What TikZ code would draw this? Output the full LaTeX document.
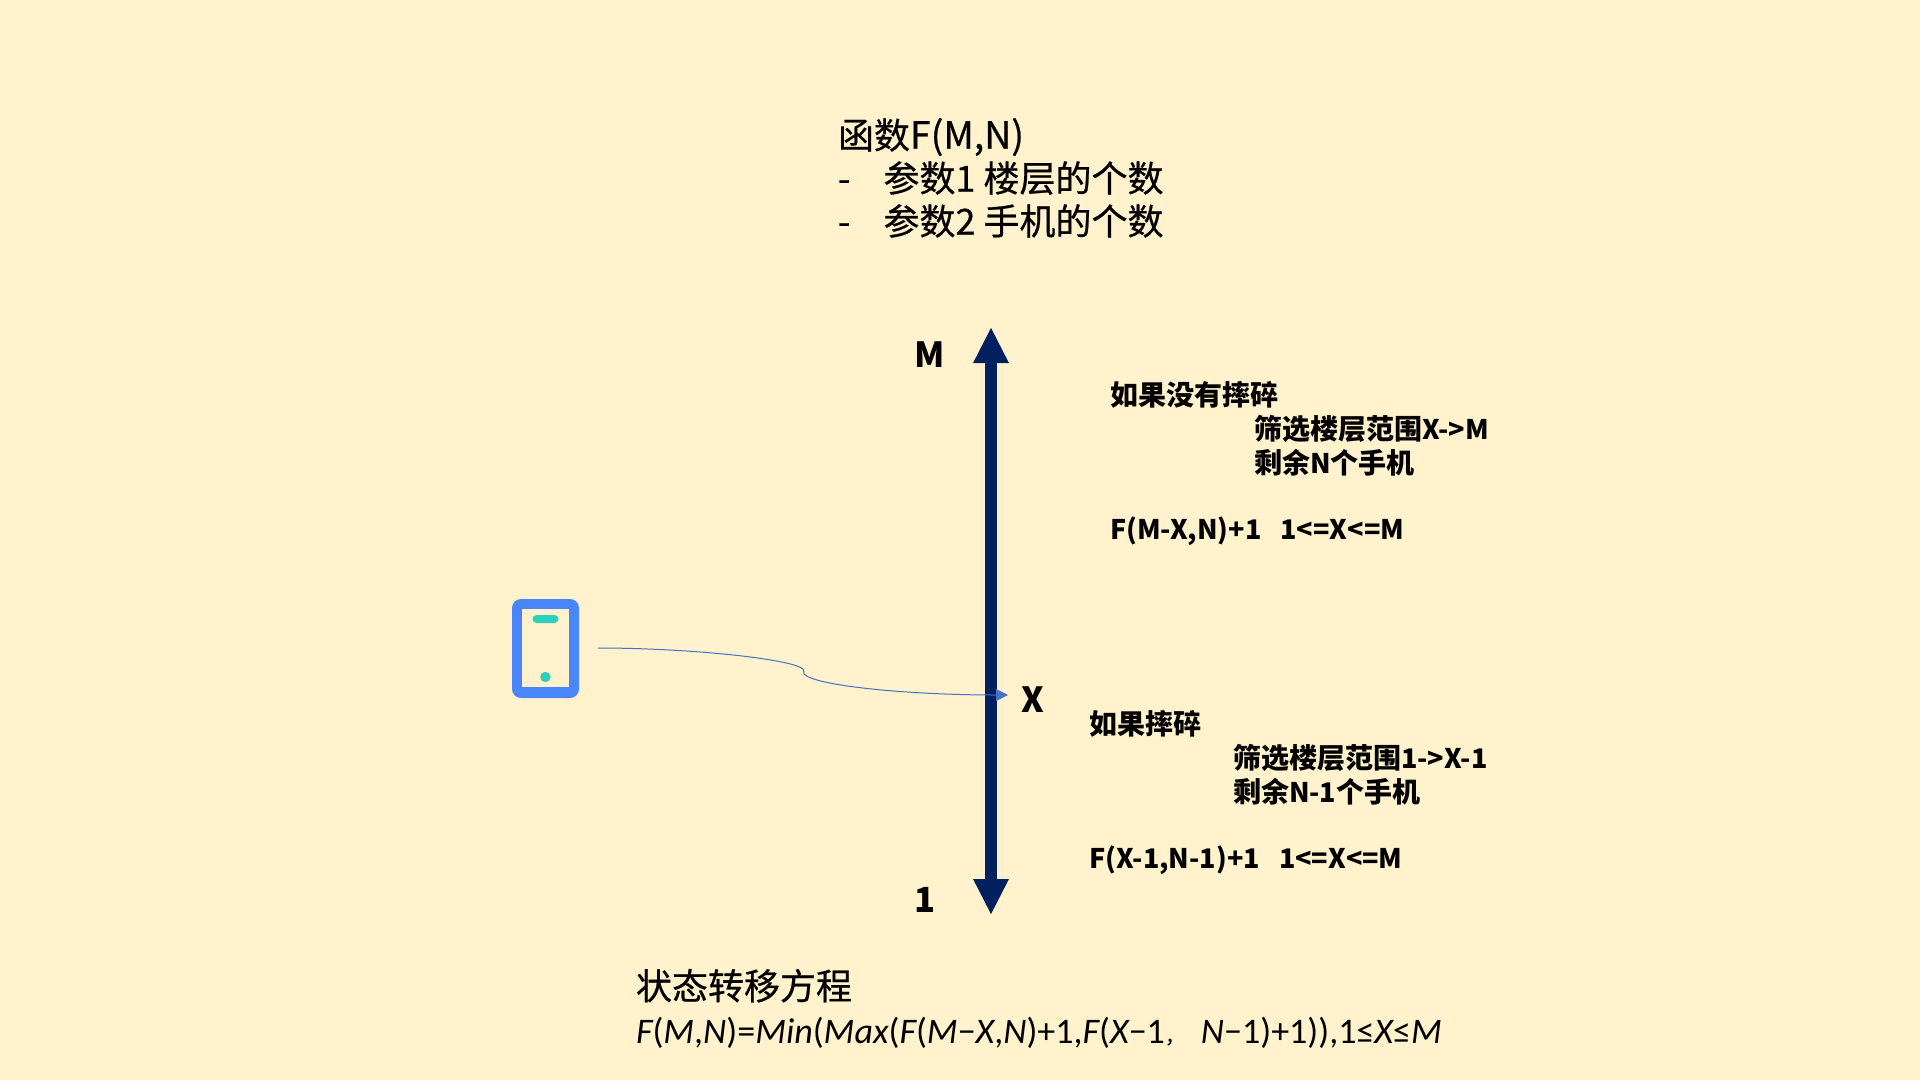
\documentclass[tikz,border=0pt]{standalone}
\usepackage{fontspec}
\usetikzlibrary{arrows.meta}
\newfontfamily\cjk[FakeBold=0.6]{Noto Sans CJK SC}
\newfontfamily\cjkb{Noto Sans CJK SC}
\newfontfamily\formulafont{Carlito}
\newcommand{\mv}[1]{{\itshape #1}}
\newcommand{\lat}[1]{{\fontsize{27}{34}\selectfont #1}}
\newcommand{\lathead}[1]{{\fontsize{37.5}{43}\selectfont #1}}
\definecolor{bgc}{HTML}{FFF2CC}
\definecolor{navy}{HTML}{002060}
\definecolor{phoneblue}{HTML}{4A86FB}
\definecolor{phoneteal}{HTML}{2DD0BA}
\definecolor{linkblue}{HTML}{4472C4}
\tikzset{
  x=1pt,y=-1pt,
  txt/.style={inner sep=0pt,outer sep=0pt,anchor=north west,align=left,text=black},
  heading/.style={txt,font=\cjk\fontsize{36}{43}\selectfont},
  note/.style={txt,font=\cjkb\bfseries\fontsize{28}{34}\selectfont},
  axislabel/.style={inner sep=0pt,outer sep=0pt,text=black,font=\cjkb\bfseries\fontsize{34.6}{43}\selectfont},
  axisarrow/.style={draw=navy,line width=12pt,{Triangle[length=36pt,width=33pt]}-{Triangle[length=36pt,width=33pt]}},
  linkarrow/.style={draw=linkblue,line width=1pt,-{Triangle[length=12pt,width=12pt]}},
}
\begin{document}
\begin{tikzpicture}
\useasboundingbox (0,0) rectangle (1920,1080);
\fill[bgc] (0,0) rectangle (1920,1080);

\node[heading] (title) at (838,118) {函数\lathead{F(M,N)}\\-\hspace{33pt}参数1 楼层的个数\\-\hspace{33pt}参数2 手机的个数};

% axis
\coordinate (top) at (991,327);
\coordinate (bottom) at (991,915);
\draw[axisarrow] (bottom) -- (top);
\node[axislabel] (labM) at (930,355) {M};
\node[axislabel] (lab1) at (925,900) {1};
\node[axislabel] (labX) at (1033,700) {X};

% notes
\node[note] (upper) at (1110,381) {如果没有摔碎\\\hspace{144pt}筛选楼层范围\lat{X->M}\\\hspace{144pt}剩余\lat{N}个手机\\[32pt]\lat{F(M-X,N)+1}\hspace{19pt}\lat{1<=X<=M}};
\node[note] (lower) at (1089,710) {如果摔碎\\\hspace{144pt}筛选楼层范围\lat{1->X-1}\\\hspace{144pt}剩余\lat{N-1}个手机\\[32pt]\lat{F(X-1,N-1)+1}\hspace{19pt}\lat{1<=X<=M}};

% phone
\fill[phoneblue,rounded corners=9pt] (512,599) rectangle (579,698);
\fill[bgc] (522,609) rectangle (569,687);
\fill[phoneteal,rounded corners=4pt] (532.5,615) rectangle (558.5,623);
\fill[phoneteal] (545.4,677) circle (5.2);

% link
\coordinate (from) at (598,648);
\coordinate (to) at (1008,695);
\draw[linkarrow] (from) .. controls (690,648) and (792,659) .. (803,669)
  .. controls (804,671) and (804,673) .. (804,674)
  .. controls (815,686) and (910,695) .. (to);

% bottom text
\node[heading] (state) at (636,969) {状态转移方程};
\node[txt,font=\formulafont\fontsize{36}{43}\selectfont] (eq) at (636,1017) {\mv{F}(\mv{M},\mv{N})=\mv{Min}(\mv{Max}(\mv{F}(\mv{M}−\mv{X},\mv{N})+1,\mv{F}(\mv{X}−1{\cjk\fontsize{20}{24}\selectfont ，}\hspace{16pt}\mv{N}−1)+1)),1≤\mv{X}≤\mv{M}};
\end{tikzpicture}
\end{document}
